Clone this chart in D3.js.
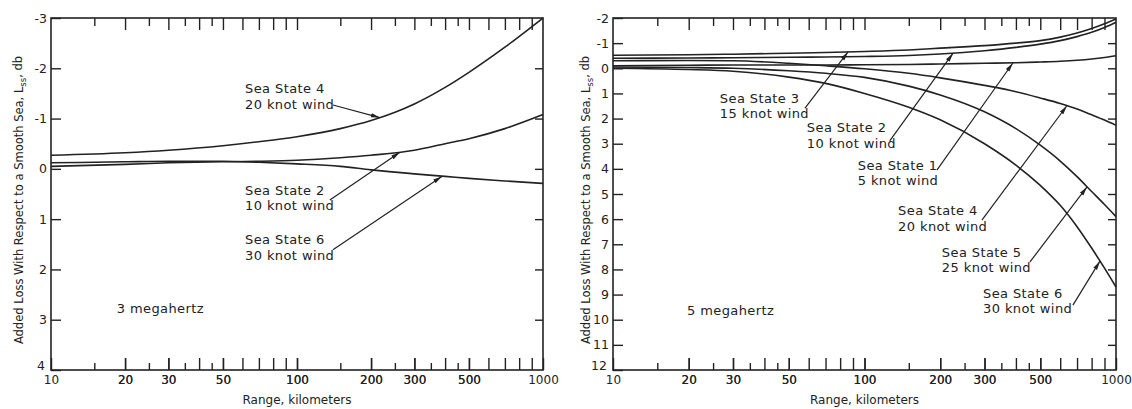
<!DOCTYPE html>
<html>
<head>
<meta charset="utf-8">
<script src="https://cdn.jsdelivr.net/npm/d3@7"></script>
<style>
body { margin: 0; background: #fff; }
text { font-family: "DejaVu Sans", sans-serif; fill: #222; }
.tick line { stroke: #222; stroke-width: 1.4; }
.tick text { font-size: 12px; }
.curve { fill: none; stroke: #222; stroke-width: 1.6; }
.note { font-size: 13px; letter-spacing: 0.4px; }
.leader { stroke: #222; stroke-width: 1.2; fill: none; }
</style>
</head>
<body>
<svg id="chart" width="1132" height="409"></svg>
<script>
// range in km, loss in db (negative = gain, plotted upward)
var range3 = [10, 20, 30, 50, 70, 100, 150, 200, 300, 400, 500, 700, 1000]
var ss4_3mhz = [-0.27, -0.32, -0.37, -0.46, -0.54, -0.64, -0.8, -0.96, -1.29, -1.62, -1.92, -2.42, -3.0]
var ss2_3mhz = [-0.05, -0.09, -0.12, -0.14, -0.15, -0.17, -0.22, -0.27, -0.37, -0.5, -0.6, -0.8, -1.08]
var ss6_3mhz = [-0.12, -0.14, -0.15, -0.15, -0.13, -0.1, -0.05, 0.02, 0.1, 0.15, 0.19, 0.24, 0.29]

var range5 = [10, 20, 30, 50, 70, 100, 150, 200, 300, 400, 500, 600, 700, 800, 900, 1000]
var ss3_5mhz = [-0.52, -0.54, -0.56, -0.6, -0.63, -0.67, -0.73, -0.8, -0.9, -1.0, -1.1, -1.24, -1.4, -1.58, -1.77, -1.96]
var ss2_5mhz = [-0.4, -0.41, -0.42, -0.44, -0.45, -0.47, -0.51, -0.57, -0.7, -0.83, -0.96, -1.1, -1.26, -1.43, -1.62, -1.83]
var ss1_5mhz = [-0.1, -0.12, -0.13, -0.13, -0.13, -0.14, -0.15, -0.17, -0.2, -0.22, -0.25, -0.28, -0.32, -0.37, -0.43, -0.5]
var ss4_5mhz = [-0.3, -0.31, -0.3, -0.2, -0.1, 0.02, 0.2, 0.38, 0.68, 0.93, 1.18, 1.4, 1.62, 1.85, 2.06, 2.27]
var ss5_5mhz = [-0.05, -0.03, 0.0, 0.1, 0.2, 0.36, 0.71, 1.06, 1.73, 2.4, 3.06, 3.69, 4.31, 4.9, 5.42, 5.9]
var ss6_5mhz = [0.0, 0.05, 0.12, 0.35, 0.6, 1.0, 1.55, 2.05, 3.0, 3.85, 4.66, 5.45, 6.3, 7.15, 7.95, 8.7]

// tick marks on the range axes
var longTicks = [20, 30, 40, 50, 60, 70, 80, 90, 100, 200, 300, 400, 500, 600, 700, 800, 900]
var shortTicks = [15, 25, 35, 45, 150, 250, 350, 450]
var rangeLabels = [10, 20, 30, 50, 100, 200, 300, 500, 1000]

// annotations: text anchor, leader start, leader end (km, db)
var notes3 = [
    { lines: ["Sea State 4", "20 knot wind"], at: [61.5, -1.59], from: [140, -1.27], to: [217, -1.02] },
    { lines: ["Sea State 2", "10 knot wind"], at: [61.5, 0.42], from: [136, 0.62], to: [262, -0.33] },
    { lines: ["Sea State 6", "30 knot wind"], at: [61.5, 1.41], from: [140, 1.61], to: [388, 0.15] }
]
var notes5 = [
    { lines: ["Sea State 3", "15 knot wind"], at: [26.6, 1.18], from: [58, 1.58], to: [86, -0.65] },
    { lines: ["Sea State 2", "10 knot wind"], at: [59, 2.34], from: [126, 2.89], to: [225, -0.6] },
    { lines: ["Sea State 1", "5 knot wind"], at: [94, 3.85], from: [194, 4.05], to: [389, -0.21] },
    { lines: ["Sea State 4", "20 knot wind"], at: [136, 5.64], from: [293, 6.04], to: [638, 1.49] },
    { lines: ["Sea State 5", "25 knot wind"], at: [203, 7.31], from: [455, 7.7], to: [767, 4.72] },
    { lines: ["Sea State 6", "30 knot wind"], at: [296, 8.94], from: [674, 9.42], to: [863, 7.67] }
]

var panels = [
    { left: 51, right: 543, top: 18, bottom: 370, yDomain: [-3, 4], titleX: 19,
      range: range3, series: [ss4_3mhz, ss2_3mhz, ss6_3mhz], notes: notes3,
      freq: "3 megahertz", freqAt: [18.5, 2.77] },
    { left: 613, right: 1116, top: 18, bottom: 370, yDomain: [-2, 12], titleX: 586,
      range: range5, series: [ss3_5mhz, ss2_5mhz, ss1_5mhz, ss4_5mhz, ss5_5mhz, ss6_5mhz], notes: notes5,
      freq: "5 megahertz", freqAt: [19.7, 9.62] }
]

var svg = d3.select("#chart")
svg.append("rect").attr("width", 1132).attr("height", 409).attr("fill", "#fff")

svg.append("defs").append("marker")
    .attr("id", "arrow")
    .attr("viewBox", "0 -3 9 6")
    .attr("refX", 9).attr("refY", 0)
    .attr("markerUnits", "userSpaceOnUse")
    .attr("markerWidth", 9).attr("markerHeight", 6)
    .attr("orient", "auto")
    .append("path").attr("d", "M0,-2.2L9,0L0,2.2Z").attr("fill", "#222")

panels.forEach(drawPanel)

function drawPanel(p) {
    var x = d3.scaleLog().domain([10, 1000]).range([p.left, p.right])
    var y = d3.scaleLinear().domain(p.yDomain).range([p.top, p.bottom])
    var g = svg.append("g")
    var noDomain = function(a) { a.select(".domain").remove() }

    // bottom axis with labels
    g.append("g").attr("transform", "translate(0," + p.bottom + ")")
        .call(d3.axisBottom(x).tickValues(longTicks.concat(rangeLabels)).tickSize(-12).tickSizeOuter(0).tickPadding(5)
            .tickFormat(function(d) { return rangeLabels.indexOf(d) >= 0 ? d : "" }))
        .call(noDomain)
    g.append("g").attr("transform", "translate(0," + p.bottom + ")")
        .call(d3.axisBottom(x).tickValues(shortTicks).tickSize(-7).tickFormat(""))
        .call(noDomain)
    // top axis
    g.append("g").attr("transform", "translate(0," + p.top + ")")
        .call(d3.axisTop(x).tickValues(longTicks).tickSize(-12).tickFormat(""))
        .call(noDomain)
    g.append("g").attr("transform", "translate(0," + p.top + ")")
        .call(d3.axisTop(x).tickValues(shortTicks).tickSize(-8).tickFormat(""))
        .call(noDomain)

    var yTicks = d3.range(p.yDomain[0], p.yDomain[1] + 1)
    var yAxis = g.append("g").attr("transform", "translate(" + p.left + ",0)")
        .call(d3.axisLeft(y).tickValues(yTicks).tickSize(-10).tickPadding(4).tickFormat(function(d) { return String(d) }))
        .call(noDomain)
    yAxis.selectAll("text").style("font-size", "12.5px")
    // lowest label sits just above the range labels
    yAxis.selectAll(".tick").filter(function(d) { return d == p.yDomain[1] })
        .select("text").attr("dy", "-0.05em").attr("x", -6)
    g.append("g").attr("transform", "translate(" + p.right + ",0)")
        .call(d3.axisRight(y).tickValues(yTicks.slice(1, -1)).tickSize(-8).tickFormat(""))
        .call(noDomain)

    g.append("rect")
        .attr("x", p.left).attr("y", p.top)
        .attr("width", p.right - p.left).attr("height", p.bottom - p.top)
        .attr("fill", "none").attr("stroke", "#222").attr("stroke-width", 1.6)

    var line = d3.line()
        .x(function(d) { return x(d[0]) })
        .y(function(d) { return y(d[1]) })
        .curve(d3.curveMonotoneX)

    p.series.forEach(function(s) {
        g.append("path")
            .datum(p.range.map(function(r, i) { return [r, s[i]] }))
            .attr("class", "curve")
            .attr("d", line)
    })

    p.notes.forEach(function(n) {
        var t = g.append("text").attr("class", "note")
            .attr("x", x(n.at[0])).attr("y", y(n.at[1]))
        n.lines.forEach(function(l, i) {
            t.append("tspan").attr("x", x(n.at[0])).attr("dy", i == 0 ? "0.35em" : "1.22em").text(l)
        })
        g.append("line").attr("class", "leader")
            .attr("x1", x(n.from[0])).attr("y1", y(n.from[1]))
            .attr("x2", x(n.to[0])).attr("y2", y(n.to[1]))
            .attr("marker-end", "url(#arrow)")
    })

    g.append("text").attr("class", "note")
        .attr("x", x(p.freqAt[0])).attr("y", y(p.freqAt[1])).attr("dy", "0.35em")
        .text(p.freq)

    // axis titles
    g.append("text")
        .attr("x", (p.left + p.right) / 2).attr("y", 400).attr("dy", "0.35em")
        .attr("text-anchor", "middle").style("font-size", "12px")
        .text("Range, kilometers")

    var yt = g.append("text")
        .attr("transform", "translate(" + p.titleX + "," + ((p.top + p.bottom) / 2 + 6) + ") rotate(-90)")
        .attr("text-anchor", "middle").attr("dy", "0.35em").style("font-size", "11.5px")
    yt.append("tspan").text("Added Loss With Respect to a Smooth Sea, L")
    yt.append("tspan").attr("dy", "0.35em").style("font-size", "8.5px").text("ss")
    yt.append("tspan").attr("dy", "-0.35em").text(", db")
}
</script>
</body>
</html>
